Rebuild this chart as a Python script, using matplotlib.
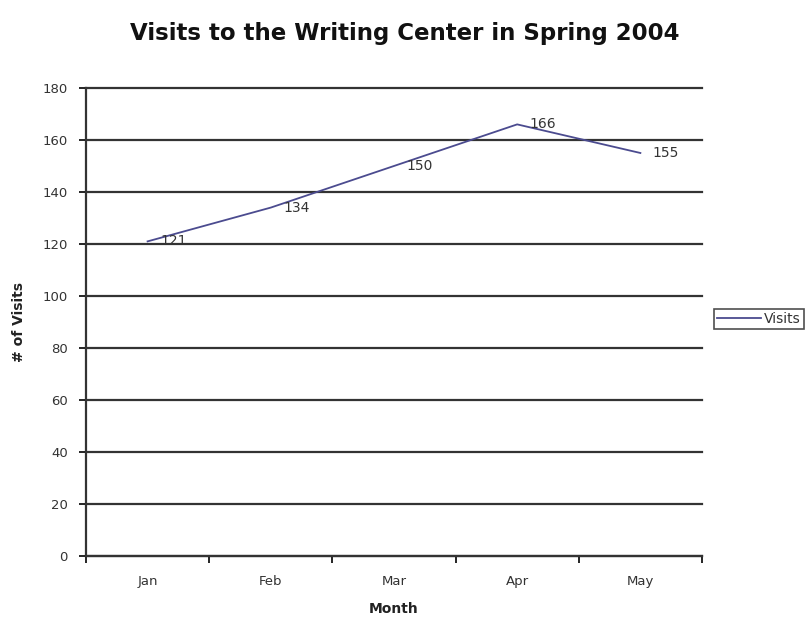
import matplotlib.pyplot as plt
from matplotlib import use

use('Agg')

months = ['Jan', 'Feb', 'Mar', 'Apr', 'May']
visits = [121, 134, 150, 166, 155]
y_ticks = list(range(0, 181, 20))

line_color = '#4b4b8f'
grid_color = '#333333'

fig = plt.figure(figsize=(8.09, 6.17), dpi=100)
ax = fig.add_axes([0.1063, 0.0989, 0.7614, 0.7585])

x = list(range(len(months)))
ax.plot(x, visits, color=line_color, lw=1.3, label='Visits', zorder=3)
for xi, v in zip(x, visits):
    ax.annotate(str(v), (xi, v), xytext=(9, 0), textcoords='offset points',
                ha='left', va='center', fontsize=10, color='#333333', zorder=4)

ax.set_xlim(-0.5, len(months) - 0.5)
ax.set_ylim(0, 180)
ax.set_yticks(y_ticks)
ax.set_yticklabels([str(t) for t in y_ticks], fontsize=9.5, color='#333333')
ax.yaxis.grid(True, color=grid_color, lw=1.6)
for gl in ax.get_ygridlines():
    gl.set_clip_on(False)
ax.set_axisbelow(True)

# categories sit between tick marks
ax.set_xticks([i - 0.5 for i in range(len(months) + 1)])
ax.set_xticklabels([])
ax.set_xticks(x, minor=True)
ax.set_xticklabels(months, minor=True, fontsize=9.5, color='#333333')
ax.tick_params(axis='x', which='minor', length=0, pad=14)
ax.tick_params(axis='x', which='major', length=5, width=1.2, direction='out')
ax.tick_params(axis='y', length=5, width=1.2, direction='out', pad=8)

for side in ['top', 'right']:
    ax.spines[side].set_visible(False)
for side in ['left', 'bottom']:
    ax.spines[side].set_color(grid_color)
    ax.spines[side].set_linewidth(1.6)

ax.set_xlabel('Month', fontsize=10, fontweight='bold', color='#222222', labelpad=10)
ax.set_ylabel('# of Visits', fontsize=10, fontweight='bold', color='#222222', labelpad=12)
fig.suptitle('Visits to the Writing Center in Spring 2004', fontsize=16.5,
             fontweight='bold', color='#111111', x=0.5, y=0.965)

leg = fig.legend(loc='center left', bbox_to_anchor=(0.882, 0.483), fontsize=10,
                 frameon=True, fancybox=False, edgecolor='#222222',
                 handlelength=3.2, handletextpad=0.2, borderpad=0.25,
                 borderaxespad=0)
leg.get_frame().set_linewidth(1.2)
for t in leg.get_texts():
    t.set_color('#333333')

fig.savefig('out.png', dpi=100)
